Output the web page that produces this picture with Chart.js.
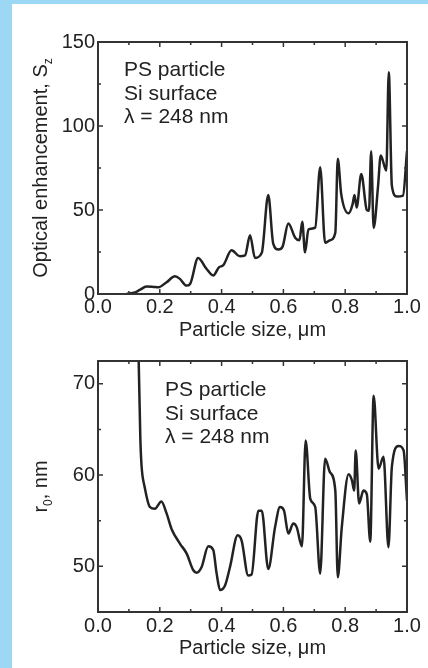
<!DOCTYPE html>
<html>
<head>
<meta charset="utf-8">
<script src="https://cdn.jsdelivr.net/npm/chart.js@4"></script>
<style>
  html, body { margin:0; padding:0; background:#fff; }
  #page { position:relative; width:428px; height:668px; overflow:hidden; background:#fff; }
  .edge-left { position:absolute; left:0; top:0; width:12px; height:668px; background:#9cd8f4; }
  .edge-top { position:absolute; left:0; top:0; width:428px; height:4px; background:#9cd8f4; }
  canvas { position:absolute; }
  #top { left:12px; top:4px; }
  #bottom { left:12px; top:340px; }
</style>
</head>
<body>
<div id="page">
  <div class="edge-left"></div>
  <div class="edge-top"></div>
  <canvas id="top" width="416" height="336"></canvas>
  <canvas id="bottom" width="416" height="328"></canvas>
</div>
<script>
// top panel: optical enhancement vs particle size
const sizeA = [0.092,0.12,0.135,0.157,0.18,0.195,0.222,0.249,0.265,0.286,0.298,0.324,0.351,0.373,0.392,0.405,0.432,0.459,0.476,0.492,0.508,0.53,0.551,0.567,0.584,0.597,0.616,0.638,0.652,0.661,0.67,0.681,0.703,0.719,0.735,0.751,0.768,0.776,0.787,0.811,0.824,0.83,0.837,0.852,0.87,0.877,0.884,0.892,0.906,0.915,0.933,0.941,0.951,0.967,0.987,1.0];
const enhancement = [0,1,2.4,4.4,4.2,4,7,10.5,9,5,6,21.5,15,11,16,17,26,22.5,23,35,21.5,24.5,59,30,26.5,28,42,33.5,32,43,24.8,38.5,39.5,75.5,30.5,32,36.5,80.5,59.6,48,53.5,59,51.5,71.5,50,49.5,85,39.3,63.5,82.4,73.5,132,64.5,58,58.6,85];

// bottom panel: r0 vs particle size
const sizeB = [0.128,0.132,0.137,0.141,0.151,0.168,0.184,0.205,0.222,0.238,0.265,0.287,0.308,0.319,0.335,0.357,0.373,0.384,0.395,0.411,0.427,0.452,0.465,0.486,0.497,0.519,0.53,0.551,0.573,0.589,0.602,0.616,0.632,0.643,0.66,0.672,0.687,0.703,0.719,0.735,0.751,0.768,0.776,0.789,0.811,0.822,0.829,0.834,0.845,0.859,0.87,0.881,0.892,0.908,0.924,0.94,0.951,0.973,0.989,1.0];
const radius = [80,72,64,61,58.7,56.5,56.3,57.1,55.8,54.1,52.5,51.4,49.6,49.3,49.9,52.2,51.8,49.2,47.4,47.9,49.9,53.4,52.8,49.0,49.1,56.1,56.1,49.7,54.3,56.5,56.1,53.6,54.7,54.3,52.2,63.8,57.4,56.5,49.2,61.8,60.3,58.3,48.8,54.3,60.1,59.4,58.3,62.7,56.9,58.3,57.9,52.7,68.7,60.7,62.0,52.1,60.9,63.2,62.7,57.2];

const xTicks = [0,0.2,0.4,0.6,0.8,1.0];
const xMinor = [0,0.1,0.2,0.3,0.4,0.5,0.6,0.7,0.8,0.9,1.0];
const yTicksA = [0,50,100,150];
const yMinorA = [0,25,50,75,100,125,150];
const yTicksB = [50,60,70];
const yMinorB = [50,55,60,65,70];

const notes = ['PS particle', 'Si surface', '\u03bb = 248 nm'];
const xTitle = 'Particle size, \u03bcm';

const INK = '#222';
const FONT = '"Liberation Sans", Arial, sans-serif';
Chart.defaults.font.family = FONT;
Chart.defaults.font.size = 20;
Chart.defaults.color = INK;

// frame with inward ticks on all four sides
const framePlugin = {
  id: 'frame',
  afterDatasetsDraw(chart, args, o){
    const {ctx, chartArea:a, scales} = chart;
    ctx.save();
    ctx.strokeStyle = '#333';
    ctx.lineWidth = 1.5;
    ctx.beginPath();
    o.xMinor.forEach(v=>{
      const px = scales.x.getPixelForValue(v);
      const len = o.xMajor.some(m=>Math.abs(m-v)<1e-9) ? 5 : 3;
      ctx.moveTo(px, a.bottom); ctx.lineTo(px, a.bottom-len);
      ctx.moveTo(px, a.top); ctx.lineTo(px, a.top+len);
    });
    o.yMinor.forEach(v=>{
      const py = scales.y.getPixelForValue(v);
      const len = o.yMajor.includes(v) ? 5 : 3;
      ctx.moveTo(a.left, py); ctx.lineTo(a.left+len, py);
      ctx.moveTo(a.right, py); ctx.lineTo(a.right-len, py);
    });
    ctx.stroke();
    ctx.lineWidth = 2;
    ctx.strokeRect(a.left, a.top, a.right-a.left, a.bottom-a.top);
    ctx.restore();
  }
};

// text block and rotated y title with subscript
const textPlugin = {
  id: 'texts',
  afterDraw(chart, args, o){
    const ctx = chart.ctx;
    ctx.save();
    ctx.fillStyle = INK;
    ctx.textBaseline = 'alphabetic';
    ctx.font = '21px ' + FONT;
    o.notes.forEach((t,i)=> ctx.fillText(t, o.noteX, o.noteY + i*23.5));
    // y title
    const mid = (chart.chartArea.top + chart.chartArea.bottom)/2;
    let total = 0;
    o.title.forEach(s=>{ ctx.font = s.size+'px '+FONT; s.w = ctx.measureText(s.t).width; total += s.w; });
    ctx.translate(o.titleX, mid);
    ctx.rotate(-Math.PI/2);
    let x = -total/2;
    o.title.forEach(s=>{
      ctx.font = s.size+'px '+FONT;
      ctx.fillText(s.t, x, s.dy);
      x += s.w;
    });
    ctx.restore();
  }
};

function makeChart(id, xs, ys, yMin, yMax, yTicks, yMinor, opts){
  const points = xs.map((x,i)=>({x, y: ys[i]}));
  return new Chart(document.getElementById(id).getContext('2d'), {
    type: 'line',
    data: { datasets: [{ data: points, borderColor: INK, borderWidth: 2.5, pointRadius: 0, cubicInterpolationMode: 'monotone', fill: false }] },
    options: {
      responsive: false, animation: false, events: [],
      layout: { padding: { left: 0, right: 21, top: opts.padTop, bottom: 0 } },
      plugins: {
        legend: { display: false }, tooltip: { enabled: false },
        frame: { xMajor: xTicks, xMinor, yMajor: yTicks, yMinor },
        texts: { notes, noteX: opts.noteX, noteY: opts.noteY, titleX: 35, title: opts.title }
      },
      scales: {
        x: {
          type: 'linear', min: 0, max: 1,
          afterBuildTicks: s => { s.ticks = xTicks.map(v=>({value:v})); },
          afterFit: s => { s.height = opts.xHeight; },
          grid: { display: false, drawTicks: false },
          border: { display: false },
          ticks: { autoSkip: false, maxRotation: 0, padding: opts.xPad, callback: v => Number(v).toFixed(1) },
          title: { display: true, text: xTitle, font: { size: 20, lineHeight: 1 }, padding: { top: 0, bottom: opts.titlePad } }
        },
        y: {
          min: yMin, max: yMax,
          afterBuildTicks: s => { s.ticks = yTicks.map(v=>({value:v})); },
          afterFit: s => { s.width = 86; },
          grid: { display: false, drawTicks: false },
          border: { display: false },
          ticks: { padding: 3 }
        }
      }
    },
    plugins: [framePlugin, textPlugin]
  });
}

makeChart('top', sizeA, enhancement, 0, 150, yTicksA, yMinorA, {
  padTop: 38, xHeight: 46, xPad: 1, titlePad: 0, noteX: 112, noteY: 72,
  title: [{t:'Optical enhancement, S', size:20, dy:0}, {t:'z', size:12, dy:5}]
});
makeChart('bottom', sizeB, radius, 45, 72.5, yTicksB, yMinorB, {
  padTop: 21, xHeight: 56, xPad: 2, titlePad: 10, noteX: 153, noteY: 56,
  title: [{t:'r', size:20, dy:0}, {t:'0', size:12, dy:5}, {t:', nm', size:20, dy:0}]
});
</script>
</body>
</html>
